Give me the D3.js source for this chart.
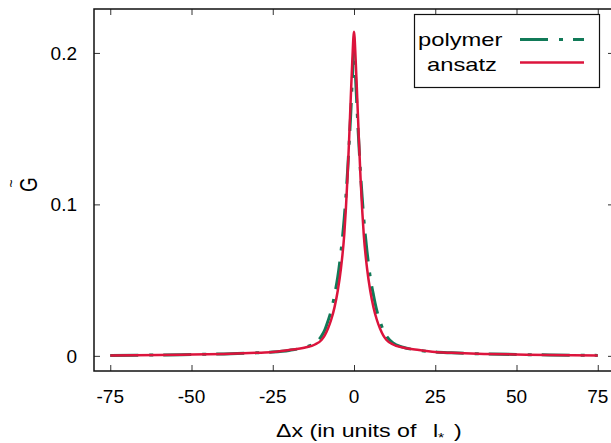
<!DOCTYPE html>
<html lang="en">
<head>
    <meta charset="UTF-8">
    <script src="https://cdn.jsdelivr.net/npm/d3@7/dist/d3.min.js"></script>
    <title>G tilde</title>
    <style>
        body { margin: 0; background: #fff; }
        svg { display: block; font-family: "Liberation Sans", Arial, sans-serif; }
    </style>
</head>
<body>
    <svg id="chart" width="611" height="443"></svg>
<script>
    // values
    const dx = [-75, -60, -50, -40, -30, -25, -20, -15, -12, -10, -9, -8, -7, -6, -5, -4, -3, -2.5, -2, -1.5, -1, -0.5,
        0, 0.5, 1, 1.5, 2, 2.5, 3, 4, 5, 6, 7, 8, 9, 10, 12, 15, 20, 25, 30, 40, 50, 60, 75];
    const polymer = [0.0003, 0.0006, 0.0009, 0.0013, 0.0020, 0.0025, 0.0036, 0.0058, 0.0085, 0.013, 0.017, 0.023, 0.030, 0.040, 0.052, 0.069, 0.091, 0.105, 0.121, 0.140, 0.160, 0.183,
        0.202, 0.183, 0.160, 0.140, 0.121, 0.105, 0.091, 0.069, 0.052, 0.040, 0.030, 0.023, 0.017, 0.013, 0.0085, 0.0058, 0.0036, 0.0025, 0.0020, 0.0013, 0.0009, 0.0006, 0.0003];
    const ansatz = [0.0003, 0.0006, 0.0009, 0.0013, 0.0020, 0.0025, 0.0038, 0.0055, 0.0075, 0.0105, 0.0135, 0.018, 0.024, 0.032, 0.043, 0.058, 0.080, 0.097, 0.118, 0.143, 0.170, 0.196,
        0.214, 0.196, 0.170, 0.143, 0.118, 0.097, 0.080, 0.058, 0.043, 0.032, 0.024, 0.018, 0.0135, 0.0105, 0.0075, 0.0055, 0.0038, 0.0025, 0.0020, 0.0013, 0.0009, 0.0006, 0.0003];
    const xTicks = [-75, -50, -25, 0, 25, 50, 75];
    const yTicks = [0, 0.1, 0.2];
    const yTickLabels = ["0", "0.1", "0.2"];

    const green = "#117a58";
    const red = "#dc143c";
    const dashes = "28,11,4,10";

    const svg = d3.select("#chart");
    const mLeft = 94, mRight = 614, mTop = 9, mBottom = 371;

    const x = d3.scaleLinear().domain([-80, 80]).range([mLeft, mRight]);
    const y = d3.scaleLinear().domain([-0.01, 0.229]).range([mBottom, mTop]);

    // mirrored inward ticks, gnuplot style
    svg.append("g").attr("transform", `translate(0,${mBottom})`)
        .call(d3.axisTop(x).tickValues(xTicks).tickSize(6).tickFormat(""))
        .call(g => g.select(".domain").remove());
    svg.append("g").attr("transform", `translate(0,${mTop})`)
        .call(d3.axisBottom(x).tickValues(xTicks).tickSize(6).tickFormat(""))
        .call(g => g.select(".domain").remove());
    svg.append("g").attr("transform", `translate(${mLeft},0)`)
        .call(d3.axisRight(y).tickValues(yTicks).tickSize(6).tickFormat(""))
        .call(g => g.select(".domain").remove());
    svg.append("g").attr("transform", `translate(${mRight},0)`)
        .call(d3.axisLeft(y).tickValues(yTicks).tickSize(6).tickFormat(""))
        .call(g => g.select(".domain").remove());
    svg.selectAll(".tick line").attr("stroke", "#333");

    svg.append("g")
        .attr("font-size", 19)
        .attr("text-anchor", "middle")
        .selectAll("text")
        .data(xTicks)
        .join("text")
        .attr("x", d => x(d))
        .attr("y", 403)
        .text(d => d);

    svg.append("g")
        .attr("font-size", 19)
        .attr("text-anchor", "end")
        .selectAll("text")
        .data(yTicks)
        .join("text")
        .attr("x", 77)
        .attr("y", d => y(d) + 7)
        .text((d, i) => yTickLabels[i]);

    const line = values => d3.line()
        .x((d, i) => x(dx[i]))
        .y(d => y(d))
        .curve(d3.curveMonotoneX)(values);

    svg.append("path")
        .attr("d", line(polymer))
        .attr("fill", "none")
        .attr("stroke", green)
        .attr("stroke-width", 3)
        .attr("stroke-dasharray", dashes);

    svg.append("path")
        .attr("d", line(ansatz))
        .attr("fill", "none")
        .attr("stroke", red)
        .attr("stroke-width", 2.5);

    // frame
    svg.append("rect")
        .attr("x", mLeft).attr("y", mTop)
        .attr("width", mRight - mLeft).attr("height", mBottom - mTop)
        .attr("fill", "none")
        .attr("stroke", "#111")
        .attr("stroke-width", 1.5);

    // legend
    const legend = svg.append("g");
    legend.append("rect")
        .attr("x", 414.5).attr("y", 14.5)
        .attr("width", 185).attr("height", 73)
        .attr("fill", "#fff")
        .attr("stroke", "#111")
        .attr("stroke-width", 1.2);
    const items = [
        {name: "polymer", color: green, dash: dashes, ty: 46, ly: 39.5, w: 3, tx: 418},
        {name: "ansatz", color: red, dash: null, ty: 70.5, ly: 62.5, w: 2.5, tx: 427}
    ];
    items.forEach(it => {
        legend.append("text")
            .attr("transform", `translate(${it.tx},${it.ty}) scale(1.25,1)`)
            .attr("font-size", 19)
            .text(it.name);
        legend.append("line")
            .attr("x1", 520).attr("x2", 584)
            .attr("y1", it.ly).attr("y2", it.ly)
            .attr("stroke", it.color)
            .attr("stroke-width", it.w)
            .attr("stroke-dasharray", it.dash);
    });

    // axis titles
    const xl = svg.append("text")
        .attr("transform", "translate(276,437) scale(1.22,1)")
        .attr("font-size", 19);
    xl.append("tspan").text("\u0394x (in units of");
    xl.append("tspan").attr("dx", 13.5).text("l");
    xl.append("tspan").attr("font-size", 13).attr("dx", 0).attr("dy", 5).text("*");
    xl.append("tspan").attr("dx", 8).attr("dy", -5).text(")");

    const yl = svg.append("g").attr("transform", "translate(28,185) rotate(-90)");
    yl.append("text")
        .attr("transform", "translate(0.5,0) scale(1,1.3)")
        .attr("text-anchor", "middle")
        .attr("font-size", 19)
        .attr("y", 6.8)
        .text("G");
    yl.append("text")
        .attr("text-anchor", "middle")
        .attr("font-size", 14)
        .attr("x", 1.5)
        .attr("y", -12)
        .text("~");
</script>
</body>
</html>
